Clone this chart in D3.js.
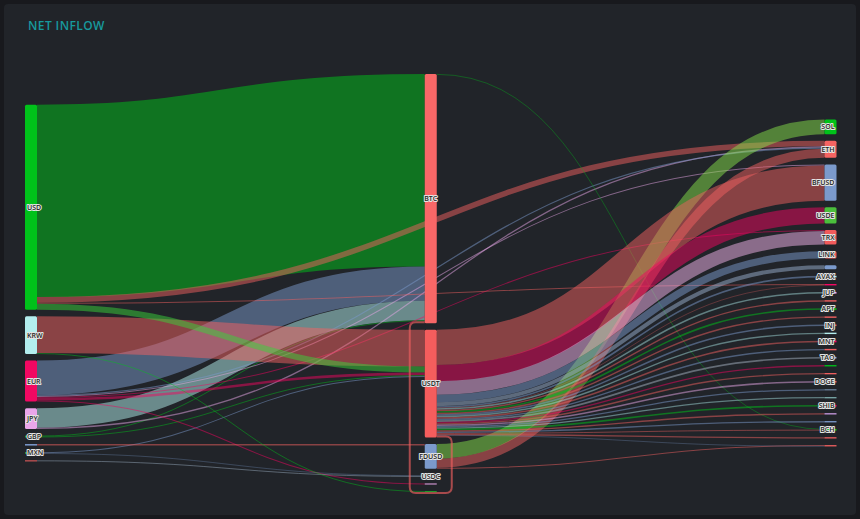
<!DOCTYPE html>
<html><head><meta charset="utf-8">
<script src="https://cdn.jsdelivr.net/npm/d3@7"></script>
<style>
html,body{margin:0;padding:0;background:#18191d;}
svg{display:block;}
</style></head><body>
<svg id="chart" width="860" height="519"></svg>
<script>
// ---------------- DATA ----------------
const title = "NET INFLOW";
const fiatNodes = ["USD","KRW","EUR","JPY","GBP","CHF","MXN","TRY"];
const hubNodes  = ["BTC","USDT","FDUSD","USDC","TUSD","DAI"];
const coinNodes = ["SOL","ETH","BFUSD","USDE","TRX","LINK","XRP","AVAX","DOT","JUP","ADA","APT","PEPE","INJ","SUI","MNT","ARB","TAO","OP","NEAR","DOGE","LTC","FIL","SHIB","ATOM","WLD","BCH","TON","ENA"];

const linkSource = ["USD","EUR","JPY","GBP","USD","JPY","EUR","EUR","EUR","USD",
  "KRW","USD","EUR","GBP","MXN","EUR","CHF","MXN","TRY","KRW",
  "BTC","FDUSD","FDUSD","FDUSD",
  "USDT","USDT","USDT","USDT","USDT","USDT","USDT","USDT","USDT","USDT","USDT","USDT","USDT","USDT","USDT","USDT","USDT","USDT","USDT","USDT","USDT","USDT","USDT","USDT","USDT","USDT","USDT",
  "USDT"];
const linkTarget = ["BTC","BTC","BTC","BTC","ETH","ETH","ETH","BFUSD","TRX","DOT",
  "USDT","USDT","USDT","USDT","USDT","TUSD","FDUSD","USDC","USDC","DAI",
  "BCH","SOL","ETH","ENA",
  "BFUSD","USDE","TRX","LINK","XRP","AVAX","DOT","JUP","ADA","APT","PEPE","INJ","SUI","MNT","ARB","TAO","OP","NEAR","DOGE","LTC","FIL","SHIB","ATOM","WLD","BCH","TON","ENA",
  "BTC"];
const linkValue = [191,34,19.5,0.9,5.5,1.2,1.2,1,1,1,
  36.5,6,2.5,0.9,1,1,1.5,0.6,0.9,0.9,
  0.7,14.5,9,1,
  35,16,13.5,7.3,4,1.6,0.4,1.6,1.4,1.6,1.4,1.6,1.4,1.6,1.4,1.6,1.3,1.3,1.6,1.3,1.3,1.6,1.3,1.3,0.9,1.3,0.3,
  2];

// ---------------- STYLES ----------------
const nodeColor = {
  USD:"#00c21a",KRW:"#b3eeee",EUR:"#f20862",JPY:"#eaa6ea",GBP:"#2aa02a",CHF:"#7b9acc",MXN:"#3aa03a",TRY:"#f06060",
  BTC:"#f86767",USDT:"#f45d5d",FDUSD:"#7b9acc",USDC:"#7b9acc",TUSD:"#eaa6ea",DAI:"#1fa82a",
  SOL:"#00c21a",ETH:"#f56462",BFUSD:"#7b9acc",USDE:"#4bbf3c",TRX:"#f25b5b",LINK:"#f25b5b",XRP:"#7b9acc",AVAX:"#b3eeee",
  DOT:"#f20862",JUP:"#eaa6ea",ADA:"#f06060",APT:"#00c21a",PEPE:"#f06060",INJ:"#f06060",SUI:"#b3eeee",MNT:"#f20862",
  ARB:"#f06060",TAO:"#7b9acc",OP:"#00c21a",NEAR:"#f06060",DOGE:"#f06060",LTC:"#6a7f98",FIL:"#7aa8a8",SHIB:"#f20862",
  ATOM:"#c89ae0",WLD:"#7b9acc",BCH:"#00c21a",TON:"#f06060",ENA:"#f06060"
};
const linkColor = ["#00c41a","#7b9acc","#b4f0ee","#00c41a","#f06060","#e8a8e8","#7b9acc","#e8a8e8","#f0065f","#f06060",
  "#f46262","#3ad13a","#f0065f","#00c41a","#7b9acc","#f0065f","#f06060","#7b9acc","#a0b4c8","#00c41a",
  "#00c41a","#86e04a","#f06060","#f06060",
  "#f06060","#f0065f","#f4b4ec","#7b9acc","#9ab0d0","#7b9acc","#f06060","#a0d8d8","#f06060","#00c41a","#f06060","#7b9acc","#a0d8d8","#f06060","#7b9acc","#a8b4c4","#f0065f","#f06060","#e8a8e8","#7b9acc","#a0d8d8","#00c41a","#f06060","#7b9acc","#f06060","#f06060","#7b9acc",
  "#f06060"];

// ---------------- LAYOUT ----------------
const ext = {x0:25, x1:836.5, y0:74, y1:492};
const nodeW = 12, pad = 6.6;
const columns = [fiatNodes, hubNodes, coinNodes];
const nodes = [], byName = {};
columns.forEach((col,ci)=>col.forEach((name,i)=>{
  const n = {name, col:ci, idx:i, inL:[], outL:[]};
  nodes.push(n); byName[name] = n;
}));
const links = linkSource.map((s,i)=>({source:byName[s], target:byName[linkTarget[i]], value:linkValue[i], color:linkColor[i], i}));
links.forEach(l=>{
  l.circular = l.target.col <= l.source.col;
  l.source.outL.push(l); l.target.inL.push(l);
});
nodes.forEach(n=>{ n.value = Math.max(d3.sum(n.inL,l=>l.value), d3.sum(n.outL,l=>l.value)); });

const ky = d3.min(columns,(col,ci)=>{
  const ns = nodes.filter(n=>n.col===ci);
  return (ext.y1-ext.y0-(ns.length-1)*pad)/d3.sum(ns,n=>n.value);
});
const xScale = d3.scaleLinear().domain([0,columns.length-1]).range([ext.x0, ext.x1-nodeW]);
const yMid = (ext.y0+ext.y1)/2;
columns.forEach((col,ci)=>{
  const ns = nodes.filter(n=>n.col===ci);
  const total = d3.sum(ns,n=>n.value)*ky + (ns.length-1)*pad;
  let y = yMid - total/2;
  ns.forEach(n=>{ n.x0=xScale(ci); n.x1=n.x0+nodeW; n.y0=y; n.y1=y+n.value*ky; y=n.y1+pad; });
});
links.forEach(l=>{ l.width = Math.max(0.6, l.value*ky); l.w = l.value*ky; });
nodes.forEach(n=>{
  let y = n.y0;
  n.outL.filter(l=>!l.circular).concat(n.outL.filter(l=>l.circular)).forEach(l=>{ l.y0 = y + l.w/2; y += l.w; });
  y = n.y0;
  n.inL.filter(l=>!l.circular).concat(n.inL.filter(l=>l.circular)).forEach(l=>{ l.y1 = y + l.w/2; y += l.w; });
});

// ---------------- DRAW ----------------
const svg = d3.select("#chart");
svg.append("rect").attr("x",4).attr("y",4).attr("width",852).attr("height",511).attr("rx",4).attr("fill","#212429");
svg.append("text").attr("x",28).attr("y",29.5).text(title)
  .attr("font-family","'Open Sans', Lato, sans-serif").attr("font-weight",600).attr("font-size",12)
  .attr("letter-spacing",0.4).attr("fill","#17999d");

const linkGen = d3.linkHorizontal().source(l=>[l.source.x1,l.y0]).target(l=>[l.target.x0,l.y1]);
function circPath(l){
  const xs=l.source.x1, ys=l.y0, xt=l.target.x0, yt=l.y1;
  const xr=xs+15, xl=xt-15, yb=ext.y1+l.w/2, r=6;
  return `M${xs},${ys}L${xr-r},${ys}Q${xr},${ys} ${xr},${ys+r}L${xr},${yb-r}Q${xr},${yb} ${xr-r},${yb}`+
         `L${xl+r},${yb}Q${xl},${yb} ${xl},${yb-r}L${xl},${yt+r}Q${xl},${yt} ${xl+r},${yt}L${xt},${yt}`;
}
svg.append("g").attr("fill","none").selectAll("path").data(links).join("path")
  .attr("d",l=>l.circular?circPath(l):linkGen(l))
  .attr("stroke",l=>l.color)
  .attr("stroke-opacity",l=>l.circular?0.65:0.5)
  .attr("stroke-width",l=>l.width);

svg.append("g").selectAll("rect").data(nodes).join("rect")
  .attr("x",n=>n.x0).attr("y",n=>n.y0)
  .attr("width",nodeW).attr("height",n=>Math.max(1,n.y1-n.y0))
  .attr("rx",n=>(n.y1-n.y0)>4?1.5:0)
  .attr("fill",n=>nodeColor[n.name]);

// labels with overlap hiding (priority by value)
const shown = [];
nodes.slice().sort((a,b)=>b.value-a.value).forEach(n=>{
  if (n.value < 1.5) return;
  const cy = (n.y0+n.y1)/2;
  if (shown.some(s=>s.col===n.col && Math.abs(s.cy-cy)<14)) return;
  shown.push({col:n.col, cy, n});
});
svg.append("g").selectAll("text").data(shown).join("text")
  .attr("x",s=>s.col===0 ? s.n.x0+2 : s.col===1 ? (s.n.x0+s.n.x1)/2 : s.n.x1-2)
  .attr("y",s=>s.cy)
  .attr("dy","0.35em")
  .attr("text-anchor",s=>s.col===0?"start":s.col===1?"middle":"end")
  .attr("font-family","'Open Sans', sans-serif").attr("font-weight",600).attr("font-size",7)
  .attr("fill","#1e1f22").attr("stroke","#e4e4e4").attr("stroke-width",2).attr("paint-order","stroke")
  .attr("stroke-linejoin","round")
  .text(s=>s.n.name);
</script>
</body></html>
